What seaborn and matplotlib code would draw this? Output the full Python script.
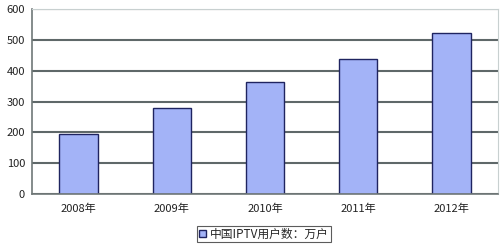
import matplotlib
matplotlib.use("Agg")
import matplotlib.pyplot as plt
import seaborn as sns
import pandas as pd
from matplotlib.patches import Patch
from matplotlib.ticker import FixedLocator

years = ["2008年", "2009年", "2010年", "2011年", "2012年"]
users = [195, 279, 363, 438, 522]
series_name = "中国IPTV用户数：万户"
yticks = [0, 100, 200, 300, 400, 500, 600]

sns.set_theme(style="white")
plt.rcParams['font.family'] = ['Noto Sans CJK SC', 'DejaVu Sans']

df = pd.DataFrame({"year": years, "users": users})

fig = plt.figure(figsize=(5.0, 2.45), dpi=100)
ax = fig.add_axes([0.064, 0.208, 0.932, 0.755])

bar_color = "#a3b3f7"
edge_color = "#1f2460"
sns.barplot(data=df, x="year", y="users", ax=ax, color=bar_color,
            edgecolor=edge_color, linewidth=1.0, width=0.41, saturation=1)

ax.set_ylim(0, 600)
ax.set_xlim(-0.5, len(years) - 0.5)
ax.set_yticks(yticks)
ax.set_yticklabels([str(v) for v in yticks])
ax.yaxis.grid(True, color="#5f6869", linewidth=1.5)
ax.set_axisbelow(True)
ax.set_xlabel("")
ax.set_ylabel("")

for s in ["top", "right"]:
    ax.spines[s].set_color("#c8d0d0")
    ax.spines[s].set_linewidth(0.8)
for s in ["left", "bottom"]:
    ax.spines[s].set_color("#707878")
    ax.spines[s].set_linewidth(1.2)

ax.tick_params(axis="x", which="major", length=0, labelsize=8, pad=7, colors="#222222")
ax.tick_params(axis="y", which="major", length=0, labelsize=8, pad=5, colors="#222222")
ax.xaxis.set_minor_locator(FixedLocator([i + 0.5 for i in range(len(years))]))
ax.tick_params(axis="x", which="minor", length=3, width=0.8, color="#444444", direction="out")

handle = Patch(facecolor=bar_color, edgecolor=edge_color, linewidth=1.0)
leg = fig.legend([handle], [series_name], loc="center", bbox_to_anchor=(0.528, 0.045),
                 frameon=True, fontsize=8.5, handlelength=0.6, handleheight=0.6,
                 handletextpad=0.3, borderpad=0.15, fancybox=False)
leg.get_frame().set_edgecolor("#333333")
leg.get_frame().set_linewidth(0.8)

fig.savefig("out.png", dpi=100)
